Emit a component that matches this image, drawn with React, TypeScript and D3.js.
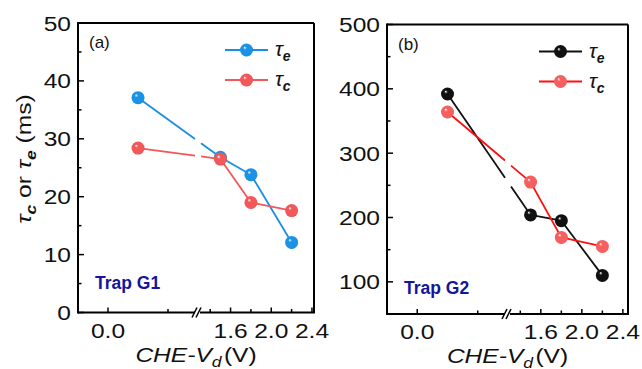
import React from "react";
import * as d3 from "d3";

const xValues = [0.1, 1.5, 1.8, 2.2];
const aTauE = [37.1, 26.8, 23.8, 12.1];
const aTauC = [28.4, 26.5, 19.0, 17.6];
const bTauE = [392, 204, 195, 110];
const bTauC = [364, 255, 169, 155];

const aYMajor = [0, 10, 20, 30, 40, 50];
const aYMinor = [5, 15, 25, 35, 45];
const bYMajor = [100, 200, 300, 400, 500];
const bYMinor = [150, 250, 350, 450];
const seg1Major = [0.0];
const seg1Labels = ["0.0"];
const seg1Minor = [0.2];
const seg2Major = [1.6, 2.0, 2.4];
const seg2Labels = ["1.6", "2.0", "2.4"];
const seg2Minor = [1.4, 1.8, 2.2];

const FONT = "'Liberation Sans', Arial, sans-serif";
const SX = 1.17;

type Series = { values: number[]; line: string; marker: string; grad: string; sub: string };

function Label(props: { x: number; y: number; anchor: string; children: React.ReactNode; size?: number }) {
  return (
    <g transform={`translate(${props.x},${props.y}) scale(${SX},1)`}>
      <text x={0} y={0} textAnchor={props.anchor} fontSize={props.size || 21} fontFamily={FONT} fill="#111">
        {props.children}
      </text>
    </g>
  );
}

function Panel(props: {
  id: string;
  left: number; right: number; top: number; bottom: number;
  breakPx: number;
  seg2Domain: [number, number];
  yDomain: [number, number];
  yMajor: number[]; yMinor: number[];
  series: Series[];
  tag: string; trap: string; trapY: number;
  yTitle: boolean;
}) {
  const { left, right, top, bottom, breakPx } = props;
  const s1 = d3.scaleLinear().domain([-0.1, 0.3]).range([left, breakPx]);
  const s2 = d3.scaleLinear().domain(props.seg2Domain).range([breakPx, right]);
  const xs = (v: number) => (v < 1 ? s1(v) : s2(v));
  const y = d3.scaleLinear().domain(props.yDomain).range([bottom, top]);
  const gap = 3;
  const line = d3.line<[number, number]>();

  return (
    <g>
      {props.series.map((s, si) => {
        const pts: [number, number][] = xValues.map((xv, i) => [xs(xv), y(s.values[i])]);
        const pieces: [number, number][][] = [];
        for (let i = 0; i < pts.length - 1; i++) {
          const [x0, y0] = pts[i];
          const [x1, y1] = pts[i + 1];
          if (x0 < breakPx && x1 > breakPx) {
            const interp = (xx: number) => y0 + ((y1 - y0) * (xx - x0)) / (x1 - x0);
            pieces.push([[x0, y0], [breakPx - gap, interp(breakPx - gap)]]);
            pieces.push([[breakPx + gap, interp(breakPx + gap)], [x1, y1]]);
          } else {
            pieces.push([[x0, y0], [x1, y1]]);
          }
        }
        return (
          <g key={"s" + si}>
            {pieces.map((p, k) => (
              <path key={"p" + k} d={line(p) || ""} stroke={s.line} strokeWidth={1.8} fill="none" />
            ))}
          </g>
        );
      })}
      {props.series.map((s, si) =>
        xValues.map((xv, i) => (
          <circle key={"m" + si + "-" + i} cx={xs(xv)} cy={y(s.values[i])} r={6.5} fill={`url(#${s.grad})`} />
        ))
      )}
      <line x1={left} x2={right} y1={top} y2={top} stroke="#000" strokeWidth={2} />
      <line x1={right} x2={right} y1={top} y2={bottom} stroke="#000" strokeWidth={2} />
      <line x1={left} x2={left} y1={top - 1} y2={bottom + 1} stroke="#000" strokeWidth={2} />
      <line x1={left} x2={right + 1} y1={bottom} y2={bottom} stroke="#000" strokeWidth={2} />
      {props.yMajor.map((v, i) => (
        <g key={"ym" + i}>
          <line x1={left} x2={left + 6} y1={y(v)} y2={y(v)} stroke="#000" strokeWidth={1.5} />
          <Label x={left - 7} y={y(v) + 7.5} anchor="end">{String(v)}</Label>
        </g>
      ))}
      {props.yMinor.map((v, i) => (
        <line key={"yn" + i} x1={left} x2={left + 3.5} y1={y(v)} y2={y(v)} stroke="#000" strokeWidth={1.5} />
      ))}
      {seg1Major.map((v, i) => (
        <g key={"xa" + i}>
          <line x1={s1(v)} x2={s1(v)} y1={bottom} y2={bottom - 5} stroke="#000" strokeWidth={1.5} />
          <Label x={s1(v)} y={bottom + 25} anchor="middle">{seg1Labels[i]}</Label>
        </g>
      ))}
      {seg1Minor.map((v, i) => (
        <line key={"xb" + i} x1={s1(v)} x2={s1(v)} y1={bottom} y2={bottom - 3.5} stroke="#000" strokeWidth={1.5} />
      ))}
      {seg2Major.map((v, i) => (
        <g key={"xc" + i}>
          <line x1={s2(v)} x2={s2(v)} y1={bottom} y2={bottom - 5} stroke="#000" strokeWidth={1.5} />
          <Label x={s2(v)} y={bottom + 25} anchor="middle">{seg2Labels[i]}</Label>
        </g>
      ))}
      {seg2Minor.map((v, i) => (
        <line key={"xd" + i} x1={s2(v)} x2={s2(v)} y1={bottom} y2={bottom - 3.5} stroke="#000" strokeWidth={1.5} />
      ))}
      <rect x={breakPx - 3} y={bottom - 2} width={5} height={4} fill="#fff" />
      <line x1={breakPx - 6} x2={breakPx - 1} y1={bottom + 5} y2={bottom - 5} stroke="#000" strokeWidth={1.5} />
      <line x1={breakPx - 2} x2={breakPx + 3} y1={bottom + 5} y2={bottom - 5} stroke="#000" strokeWidth={1.5} />
      <Label x={(left + right) / 2} y={bottom + 49} anchor="middle">
        <tspan fontStyle="italic">CHE-V</tspan>
        <tspan fontStyle="italic" fontSize={15} dy={5}>d</tspan>
        <tspan dy={-5} dx={2}>(V)</tspan>
      </Label>
      <text x={left + 11} y={top + 25} fontSize={17} fontFamily={FONT} fill="#111">{props.tag}</text>
      {props.series.map((s, si) => {
        const ly = top + 27 + si * 30;
        const lx = right - 89;
        return (
          <g key={"lg" + si}>
            <line x1={lx} x2={lx + 43} y1={ly} y2={ly} stroke={s.line} strokeWidth={1.8} />
            <circle cx={lx + 21.5} cy={ly} r={6.5} fill={`url(#${s.grad})`} />
            <text x={lx + 50} y={ly + 6} fontSize={21} fontFamily={FONT} fontStyle="italic" fill="#111">
              τ<tspan fontSize={14} dy={5} fontWeight="bold">{s.sub}</tspan>
            </text>
          </g>
        );
      })}
      <text x={left + 17} y={props.trapY} fontSize={17.5} fontWeight="bold" fontFamily={FONT} fill="#1414a0">{props.trap}</text>
      {props.yTitle && (
        <g transform={`translate(31,159) rotate(-90) scale(${SX},1)`}>
          <text x={0} y={0} textAnchor="middle" fontSize={21} fontFamily={FONT} fill="#111">
            <tspan fontStyle="italic">τ</tspan>
            <tspan fontSize={15} dy={5} fontStyle="italic" fontWeight="bold">c</tspan>
            <tspan dy={-5}> or </tspan>
            <tspan fontStyle="italic">τ</tspan>
            <tspan fontSize={15} dy={5} fontStyle="italic" fontWeight="bold">e</tspan>
            <tspan dy={-5}> (ms)</tspan>
          </text>
        </g>
      )}
    </g>
  );
}

function Grad(props: { id: string; color: string; dark: string }) {
  return (
    <radialGradient id={props.id} cx="50%" cy="50%" r="55%" fx="35%" fy="30%">
      <stop offset="0%" stopColor="#ffffff" />
      <stop offset="25%" stopColor={props.color} />
      <stop offset="85%" stopColor={props.color} />
      <stop offset="100%" stopColor={props.dark} />
    </radialGradient>
  );
}

export default function App() {
  return (
    <svg width={642} height={369} style={{ position: "absolute", left: 0, top: 0, background: "#fff" }}>
      <defs>
        <Grad id="gBlue" color="#1a93e6" dark="#0b6cb8" />
        <Grad id="gRed" color="#f2575a" dark="#d63a3e" />
        <Grad id="gBlack" color="#111111" dark="#000000" />
        <Grad id="gRed2" color="#f55f5f" dark="#e24444" />
      </defs>
      <Panel
        id="a" left={78} right={314} top={23} bottom={312.5} breakPx={198}
        seg2Domain={[1.28, 2.42]} yDomain={[0, 50]} yMajor={aYMajor} yMinor={aYMinor}
        series={[
          { values: aTauE, line: "#1a8fe0", marker: "#1a93e6", grad: "gBlue", sub: "e" },
          { values: aTauC, line: "#f2575a", marker: "#f2575a", grad: "gRed", sub: "c" },
        ]}
        tag="(a)" trap="Trap G1" trapY={289} yTitle={true}
      />
      <Panel
        id="b" left={387} right={628} top={24.5} bottom={314} breakPx={508}
        seg2Domain={[1.28, 2.45]} yDomain={[50, 500]} yMajor={bYMajor} yMinor={bYMinor}
        series={[
          { values: bTauE, line: "#111111", marker: "#111", grad: "gBlack", sub: "e" },
          { values: bTauC, line: "#ff1010", marker: "#f55f5f", grad: "gRed2", sub: "c" },
        ]}
        tag="(b)" trap="Trap G2" trapY={294} yTitle={false}
      />
    </svg>
  );
}
